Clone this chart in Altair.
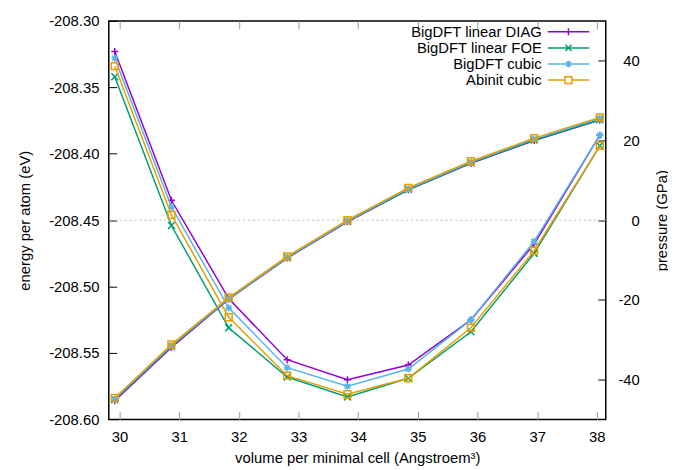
import altair as alt
import pandas as pd

FONT = "Liberation Sans"

series = ["BigDFT linear DIAG", "BigDFT linear FOE", "BigDFT cubic", "Abinit cubic"]
colors = ["#9400d3", "#009e73", "#56b4e9", "#e69f00"]

volume = [29.92, 30.87, 31.83, 32.81, 33.82, 34.84, 35.89, 36.95, 38.05]

energy_diag = [-208.323, -208.435, -208.509, -208.555, -208.570, -208.559, -208.525, -208.468, -208.386]
energy_foe = [-208.342, -208.454, -208.531, -208.568, -208.583, -208.569, -208.534, -208.475, -208.394]
energy_cubic = [-208.328, -208.440, -208.516, -208.561, -208.575, -208.562, -208.525, -208.466, -208.386]
energy_abinit = [-208.334, -208.446, -208.523, -208.567, -208.581, -208.569, -208.531, -208.473, -208.394]

pressure_diag = [-45.3, -31.9, -19.8, -9.5, -0.4, 7.6, 14.3, 20.0, 25.1]
pressure_foe = [-45.0, -31.7, -19.7, -9.4, -0.3, 7.7, 14.4, 20.1, 25.2]
pressure_cubic = [-44.8, -31.4, -19.6, -9.3, -0.2, 7.9, 14.6, 20.4, 25.6]
pressure_abinit = [-44.6, -31.2, -19.4, -9.1, 0.0, 8.1, 14.8, 20.6, 25.8]

x_ticks = [30, 31, 32, 33, 34, 35, 36, 37, 38]
energy_ticks = [-208.60, -208.55, -208.50, -208.45, -208.40, -208.35, -208.30]
pressure_ticks = [-40, -20, 0, 20, 40]
zero_pressure = [0]

energies = [energy_diag, energy_foe, energy_cubic, energy_abinit]
pressures = [pressure_diag, pressure_foe, pressure_cubic, pressure_abinit]

# marker glyphs (svg paths): plus, cross, asterisk, open square
marker_paths = [
    "M-1,0H1M0,-1V1",
    "M-1,-1L1,1M-1,1L1,-1",
    "M-1,0H1M0,-1V1M-0.75,-0.75L0.75,0.75M-0.75,0.75L0.75,-0.75",
    "M-1,-1H1V1H-1Z",
]
legend_paths = [
    "M-6,0H6M0,-1V1",
    "M-6,0H6M-0.9,-0.9L0.9,0.9M-0.9,0.9L0.9,-0.9",
    "M-6,0H6M0,-1V1M-0.75,-0.75L0.75,0.75M-0.75,0.75L0.75,-0.75",
    "M-6,0H-1M1,0H6M-1,-1H1V1H-1Z",
]

legend_expr = ""
for s, p in zip(series[:-1], legend_paths[:-1]):
    legend_expr += "datum.value === '%s' ? '%s' : " % (s, p)
legend_expr += "'%s'" % legend_paths[-1]

xscale = alt.Scale(domain=[29.82, 38.15], nice=False, zero=False)
color_scale = alt.Scale(domain=series, range=colors)

common_axis = dict(
    domain=False, grid=False, tickSize=8, tickWidth=1, offset=-8,
    labelFont=FONT, labelFontSize=15, labelColor="black",
    titleFont=FONT, titleFontSize=15, titleFontWeight="normal", titleColor="black",
)

x_bottom = alt.X(
    "volume:Q", scale=xscale,
    axis=alt.Axis(orient="bottom", values=x_ticks, format="d", tickColor="#999999",
                  labelPadding=10, title="volume per minimal cell (Angstroem³)",
                  titlePadding=7, **common_axis),
)
x_top = alt.X(
    "volume:Q", scale=xscale,
    axis=alt.Axis(orient="top", values=x_ticks, tickColor="#999999", labels=False,
                  title=None, **common_axis),
)
y_energy = alt.Y(
    "energy:Q", scale=alt.Scale(domain=[-208.60, -208.30], nice=False, zero=False),
    axis=alt.Axis(orient="left", values=energy_ticks, tickColor="black", labelPadding=10,
                  labelExpr="(datum.value < 0 ? '-' : '') + format(abs(datum.value), '.2f')",
                  title="energy per atom (eV)", titlePadding=16, **common_axis),
)
y_pressure = alt.Y(
    "pressure:Q", scale=alt.Scale(domain=[-50, 50], nice=False, zero=False),
    axis=alt.Axis(orient="right", values=pressure_ticks, tickColor="black",
                  labelAlign="right", labelPadding=34,
                  labelExpr="(datum.value < 0 ? '-' : '') + format(abs(datum.value), 'd')",
                  title="pressure (GPa)", titleAngle=270, titlePadding=30, **common_axis),
)

leg = alt.Legend(
    orient="none", legendX=457.75, legendY=3.5, title=None, padding=0, rowPadding=0.3,
    labelFont=FONT, labelFontSize=15, labelColor="black", labelAlign="right",
    labelOffset={"expr": "-34.5"}, labelLimit=300, symbolSize=49, symbolStrokeWidth=1.5,
    symbolType={"expr": legend_expr}, symbolFillColor="transparent",
)

energy_layers = []
pressure_layers = []
zero_df = pd.DataFrame({"pressure": zero_pressure})
pressure_layers.append(
    alt.Chart(zero_df).mark_rule(color="#b8b8b8", strokeDash=[2, 3], strokeWidth=1).encode(y=y_pressure)
)

for i, s in enumerate(series):
    d = pd.DataFrame({"volume": volume, "energy": energies[i], "pressure": pressures[i], "series": s})
    col_leg = alt.Color("series:N", scale=color_scale, legend=leg) if i == 0 else \
        alt.Color("series:N", scale=color_scale, legend=None)
    col = alt.Color("series:N", scale=color_scale, legend=None)
    base = alt.Chart(d)
    pt = dict(filled=False, size=49, strokeWidth=1.5, opacity=1, shape=marker_paths[i])
    energy_layers.append(base.mark_line(strokeWidth=1.5).encode(x=x_bottom, y=y_energy, color=col_leg))
    energy_layers.append(base.mark_point(**pt).encode(x=x_bottom, y=y_energy, color=col))
    pressure_layers.append(base.mark_line(strokeWidth=1.5).encode(x=x_top, y=y_pressure, color=col))
    pressure_layers.append(base.mark_point(**pt).encode(x=x_top, y=y_pressure, color=col))

chart = (
    alt.layer(alt.layer(*energy_layers), alt.layer(*pressure_layers))
    .resolve_scale(y="independent")
    .resolve_axis(x="independent")
    .properties(
        width=503, height=403.4,
        autosize=alt.AutoSizeParams(type="none"),
        padding={"left": 102, "top": 10.3, "right": 63, "bottom": 46},
        background="white",
    )
    .configure_view(stroke="black", strokeWidth=1.5)
)

chart.save("out.html", embed_options={"renderer": "svg", "actions": False})
